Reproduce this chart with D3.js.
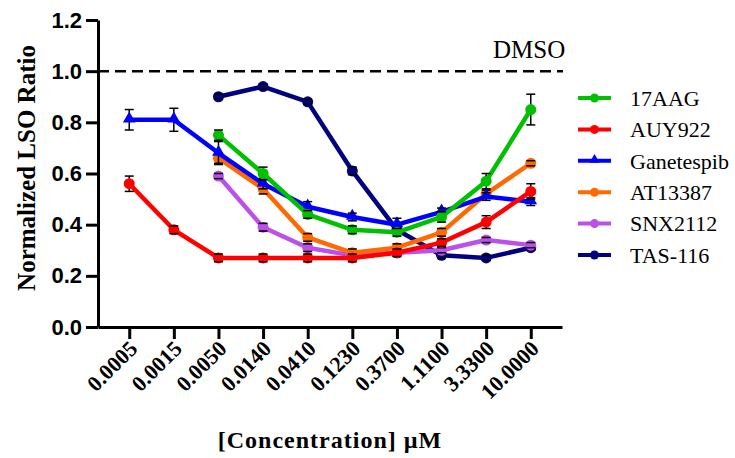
<!DOCTYPE html>
<html>
<head>
<meta charset="utf-8">
<script src="https://cdn.jsdelivr.net/npm/d3@7"></script>
<style>
  body { margin: 0; background: #fff; }
  svg { display: block; }
</style>
</head>
<body>
<svg width="735" height="458"></svg>
<script>
// concentrations (uM) shown as category ticks
const concentrations = ["0.0005", "0.0015", "0.0050", "0.0140", "0.0410", "0.1230", "0.3700", "1.1100", "3.3300", "10.0000"];
const yTicks = [0, 0.2, 0.4, 0.6, 0.8, 1.0, 1.2];

// mean values per drug (null = not tested)
const aag17 =      [null, null, 0.75, 0.60, 0.44, 0.38, 0.37, 0.43, 0.57, 0.85];
const auy922 =     [0.56, 0.38, 0.27, 0.27, 0.27, 0.27, 0.29, 0.33, 0.41, 0.53];
const ganetespib = [0.81, 0.81, 0.68, 0.56, 0.47, 0.43, 0.40, 0.45, 0.51, 0.49];
const at13387 =    [null, null, 0.66, 0.54, 0.35, 0.29, 0.31, 0.37, 0.52, 0.64];
const snx2112 =    [null, null, 0.59, 0.39, 0.31, 0.28, 0.29, 0.30, 0.34, 0.32];
const tas116 =     [null, null, 0.90, 0.94, 0.88, 0.61, 0.38, 0.28, 0.27, 0.31];

// error (+/-) per point
const aag17Err =      [null, null, 0.02, 0.025, 0.015, 0.015, 0.015, 0.02, 0.03, 0.06];
const auy922Err =     [0.03, 0.015, 0.015, 0.015, 0.015, 0.015, 0.015, 0.015, 0.025, 0.03];
const ganetespibErr = [0.04, 0.045, 0.045, 0.02, 0.02, 0.015, 0.025, 0.015, 0.015, 0.015];
const at13387Err =    [null, null, 0.02, 0.02, 0.015, 0.015, 0.015, 0.015, 0.015, 0.01];
const snx2112Err =    [null, null, 0.01, 0.015, 0.015, 0.01, 0.01, 0.01, 0.01, 0.01];
const tas116Err =     [null, null, 0.01, 0.01, 0.01, 0.015, 0.01, 0.01, 0.01, 0.01];

const seriesNames = ["17AAG", "AUY922", "Ganetespib", "AT13387", "SNX2112", "TAS-116"];
const seriesColors = ["#00c000", "#ff0000", "#0000ff", "#ff6a00", "#bb50ea", "#000080"];
const seriesValues = [aag17, auy922, ganetespib, at13387, snx2112, tas116];
const seriesErrors = [aag17Err, auy922Err, ganetespibErr, at13387Err, snx2112Err, tas116Err];
const seriesShapes = ["circle", "circle", "triangle", "circle", "circle", "circle"];

const SERIF = "'Liberation Serif', 'Times New Roman', serif";
const SANS = "'Liberation Sans', Arial, sans-serif";

const svg = d3.select("svg");

const x = d3.scalePoint().domain(concentrations).range([98, 562]).padding(0.7);
const y = d3.scaleLinear().domain([0, 1.2]).range([327, 20]);

// DMSO reference line
svg.append("line")
  .attr("x1", 98).attr("x2", 563)
  .attr("y1", y(1)).attr("y2", y(1))
  .attr("stroke", "#000").attr("stroke-width", 2.5)
  .attr("stroke-dasharray", "11,6");

svg.append("text")
  .attr("font-family", SERIF)
  .attr("x", 493).attr("y", 58)
  .attr("font-size", 25)
  .text("DMSO");

// series, drawn bottom (TAS-116) to top (17AAG)
const lineGen = d3.line()
  .defined(d => d.v != null)
  .x(d => x(d.c))
  .y(d => y(d.v));

const order = d3.range(seriesNames.length).reverse();
order.forEach(i => {
  const pts = concentrations.map((c, j) => ({ c: c, v: seriesValues[i][j], e: seriesErrors[i][j] }))
    .filter(d => d.v != null);
  const g = svg.append("g");

  g.append("path")
    .attr("d", lineGen(pts))
    .attr("fill", "none")
    .attr("stroke", seriesColors[i])
    .attr("stroke-width", 4.5)
    .attr("stroke-linejoin", "round");

  // error bar stems
  g.selectAll(".stem").data(pts).enter().append("line")
    .attr("x1", d => x(d.c)).attr("x2", d => x(d.c))
    .attr("y1", d => y(d.v - d.e)).attr("y2", d => y(d.v + d.e))
    .attr("stroke", "#000").attr("stroke-width", 1.5);

  if (seriesShapes[i] === "triangle") {
    g.selectAll(".mark").data(pts).enter().append("path")
      .attr("d", d3.symbol().type(d3.symbolTriangle).size(70))
      .attr("transform", d => `translate(${x(d.c)},${y(d.v) - 1})`)
      .attr("fill", seriesColors[i]);
  } else {
    g.selectAll(".mark").data(pts).enter().append("circle")
      .attr("cx", d => x(d.c)).attr("cy", d => y(d.v))
      .attr("r", 5.5)
      .attr("fill", seriesColors[i]);
  }

  // error bar caps
  pts.forEach(d => {
    [d.v - d.e, d.v + d.e].forEach(v => {
      g.append("line")
        .attr("x1", x(d.c) - 4.5).attr("x2", x(d.c) + 4.5)
        .attr("y1", y(v)).attr("y2", y(v))
        .attr("stroke", "#000").attr("stroke-width", 1.5);
    });
  });
});

// y axis
const yAxis = svg.append("g")
  .attr("transform", "translate(98,0)")
  .call(d3.axisLeft(y).tickValues(yTicks).tickFormat(d3.format(".1f")).tickSize(12).tickSizeOuter(0).tickPadding(4));
yAxis.select(".domain").attr("stroke-width", 3);
yAxis.selectAll(".tick line").attr("stroke-width", 3);
yAxis.selectAll("text")
  .attr("font-family", SANS)
  .attr("font-weight", "bold")
  .attr("font-size", 22);

// x axis
const xAxis = svg.append("g")
  .attr("transform", "translate(0,327)")
  .call(d3.axisBottom(x).tickSize(12).tickSizeOuter(0));
xAxis.select(".domain").attr("stroke-width", 3);
xAxis.selectAll(".tick line").attr("stroke-width", 3);
xAxis.selectAll("text")
  .attr("font-family", SERIF)
  .attr("font-weight", "bold")
  .attr("font-size", 22)
  .attr("text-anchor", "end")
  .attr("y", 0).attr("dy", 0)
  .attr("transform", "translate(9,23) rotate(-45)");

// axis titles
svg.append("text")
  .attr("font-family", SERIF)
  .attr("font-weight", "bold")
  .attr("font-size", 25)
  .attr("text-anchor", "middle")
  .attr("transform", "translate(35,168) rotate(-90)")
  .text("Normalized LSO Ratio");

svg.append("text")
  .attr("font-family", SERIF)
  .attr("font-weight", "bold")
  .attr("font-size", 24)
  .attr("letter-spacing", 1)
  .attr("text-anchor", "middle")
  .attr("x", 330).attr("y", 448)
  .text("[Concentration] µM");

// legend
const legend = svg.append("g");
seriesNames.forEach((name, i) => {
  const ly = 98 + i * 31.4;
  legend.append("line")
    .attr("x1", 578).attr("x2", 611)
    .attr("y1", ly).attr("y2", ly)
    .attr("stroke", seriesColors[i]).attr("stroke-width", 4);
  if (seriesShapes[i] === "triangle") {
    legend.append("path")
      .attr("d", d3.symbol().type(d3.symbolTriangle).size(45))
      .attr("transform", `translate(594.5,${ly - 1})`)
      .attr("fill", seriesColors[i]);
  } else {
    legend.append("circle")
      .attr("cx", 594.5).attr("cy", ly).attr("r", 4.5)
      .attr("fill", seriesColors[i]);
  }
  legend.append("text")
    .attr("font-family", SERIF)
    .attr("x", 630).attr("y", ly)
    .attr("dy", "0.35em")
    .attr("font-size", 22)
    .text(name);
});
</script>
</body>
</html>
